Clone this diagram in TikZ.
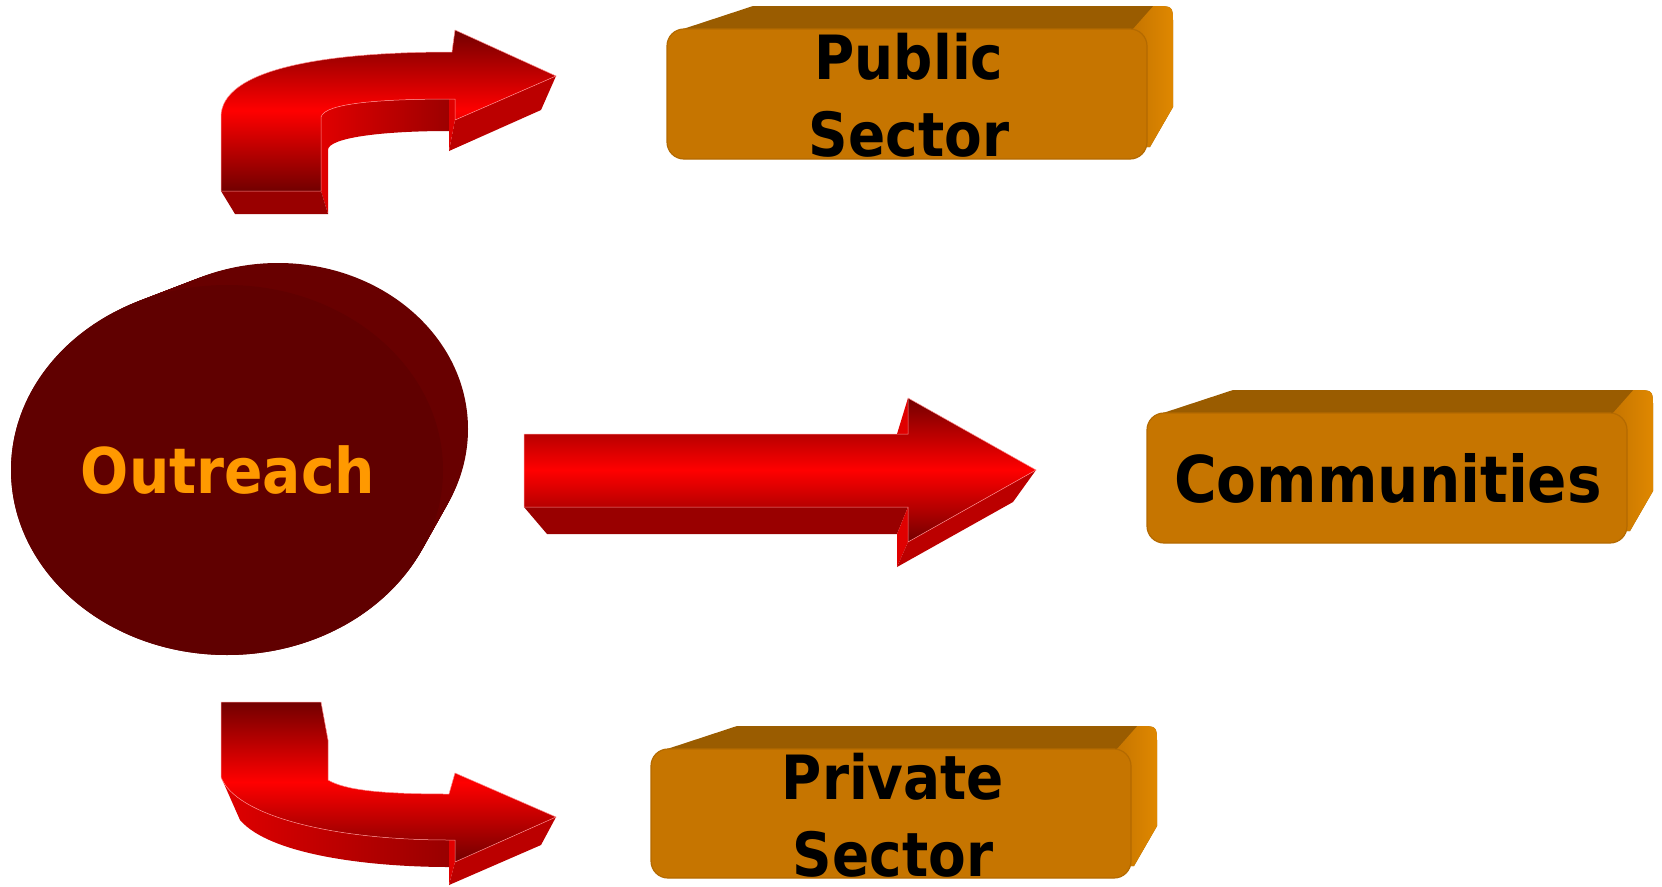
\documentclass[tikz,border=0pt]{standalone}
\usepackage{fontspec}
\setmainfont{DejaVu Sans Condensed}
\definecolor{frontO}{HTML}{C67500}
\definecolor{topO}{HTML}{9A5C00}
\definecolor{sideO}{HTML}{E28A00}
\definecolor{edgeO}{HTML}{B46A00}
\definecolor{darkR}{HTML}{990000}
\definecolor{midR}{HTML}{BB0000}
\definecolor{brightR}{HTML}{E00000}
\definecolor{shadeR}{HTML}{720000}
\definecolor{ovalF}{HTML}{600000}
\definecolor{ovalS}{HTML}{680000}
\definecolor{textO}{HTML}{FF9900}
\newcommand\threedbox[4]{%
  \fill[topO] (#1+10,#2+2) -- (#1+86,#2-23) -- (#3+8,#2-23) .. controls (#3+26,#2-23) .. (#3+26,#2-5) -- (#3+26,#4-52) -- (#3+3,#4-12) -- (#3-20,#4-12) -- (#3-20,#2+2) -- cycle;
  \begin{scope}
    \clip (#1+10,#2+2) -- (#1+86,#2-23) -- (#3+8,#2-23) .. controls (#3+26,#2-23) .. (#3+26,#2-5) -- (#3+26,#4-52) -- (#3+3,#4-12) -- (#3-20,#4-12) -- (#3-20,#2+2) -- cycle;
    \shade[left color=frontO, right color=sideO] (#3-14,#2) -- (#3+9,#2-26) -- (#3+30,#2-26) -- (#3+30,#4) -- (#3-14,#4) -- cycle;
  \end{scope}
  \filldraw[frontface] (#1,#2) rectangle (#3,#4);
}
\begin{document}
\begin{tikzpicture}[x=1pt,y=-1pt,
  frontface/.style={fill=frontO, draw=edgeO, line width=1.2pt, rounded corners=17pt},
  arrowfront/.style={top color=shadeR, bottom color=shadeR, middle color=red, draw=red!45!white, line width=0.5pt},
  boxtext/.style={inner sep=0pt, font=\bfseries\fontsize{61}{77}\selectfont, text=black, align=center},
  bigtext/.style={inner sep=0pt, font=\bfseries\fontsize{63}{72}\selectfont}]
\useasboundingbox (0,0) rectangle (1662,886);

% ---------- Outreach oval ----------
\foreach \t in {1,0.96,...,0}
  \fill[ovalS] ({227+51*\t},{470-41*\t}) ellipse [x radius={216-26*\t}, y radius={185-19*\t}];
\fill[ovalF] (227,470) ellipse [x radius=216, y radius=185];
\node[bigtext, text=textO, anchor=base] (outreach) at (228,493) {Outreach};

% ---------- top curved arrow ----------
\shade[left color=brightR, right color=darkR] (321,117) .. controls (325,103) and (380,99) .. (455,99) -- (449,131) .. controls (380,131) and (328,138) .. (328,150) -- (328,214) -- (321,191) -- cycle;
\fill[darkR] (221,191) -- (321,191) -- (328,214) -- (235,214) -- cycle;
\fill[midR] (455,120) -- (556,76) -- (541,110) -- (449,151) -- cycle;
\fill[brightR] (455,99) -- (455,120) -- (449,151) -- (449,99) -- cycle;
\shadedraw[arrowfront] (221,191) -- (221,117) .. controls (221,70) and (320,52) .. (452,52) -- (455,30) -- (556,76) -- (455,120) -- (455,99) .. controls (380,99) and (325,103) .. (321,117) -- (321,191) -- cycle;

% ---------- middle arrow ----------
\fill[darkR] (524,507) -- (908,507) -- (897,534) -- (547,534) -- cycle;
\fill[brightR] (908,507) -- (908,542) -- (897,567) -- (897,534) -- cycle;
\fill[midR] (908,542) -- (1036,470) -- (1013,502) -- (897,567) -- cycle;
\fill[brightR] (897,434) -- (908,398) -- (908,434) -- cycle;
\shadedraw[arrowfront] (524,434) -- (908,434) -- (908,398) -- (1036,470) -- (908,542) -- (908,507) -- (524,507) -- cycle;

% ---------- bottom curved arrow ----------
\shade[left color=brightR, right color=darkR] (221,777) -- (240,820) .. controls (270,855) and (370,867) .. (449,867) -- (449,840) .. controls (330,840) and (235,815) .. (221,777) -- cycle;
\fill[midR] (455,862) -- (556,817) -- (541,845) -- (449,885) -- cycle;
\fill[brightR] (449,840) -- (455,840) -- (455,862) -- (449,885) -- cycle;
\shadedraw[arrowfront] (221,702) -- (321,702) -- (328,740) -- (328,780) .. controls (345,790) and (380,794) .. (449,794) -- (455,773) -- (556,817) -- (455,862) -- (455,840) -- (449,840) .. controls (330,840) and (235,815) .. (221,777) -- cycle;

% ---------- boxes ----------
\threedbox{667}{29}{1147}{159}
\node[boxtext] (public) at (909,95.5) {Public\\Sector};

\threedbox{1147}{413}{1627}{543}
\node[bigtext, font=\bfseries\fontsize{64.5}{72}\selectfont, text=black, anchor=base] (communities) at (1388,502) {Communities};

\threedbox{651}{749}{1131}{878}
\node[boxtext] (private) at (893,815) {Private\\Sector};
\end{tikzpicture}
\end{document}
